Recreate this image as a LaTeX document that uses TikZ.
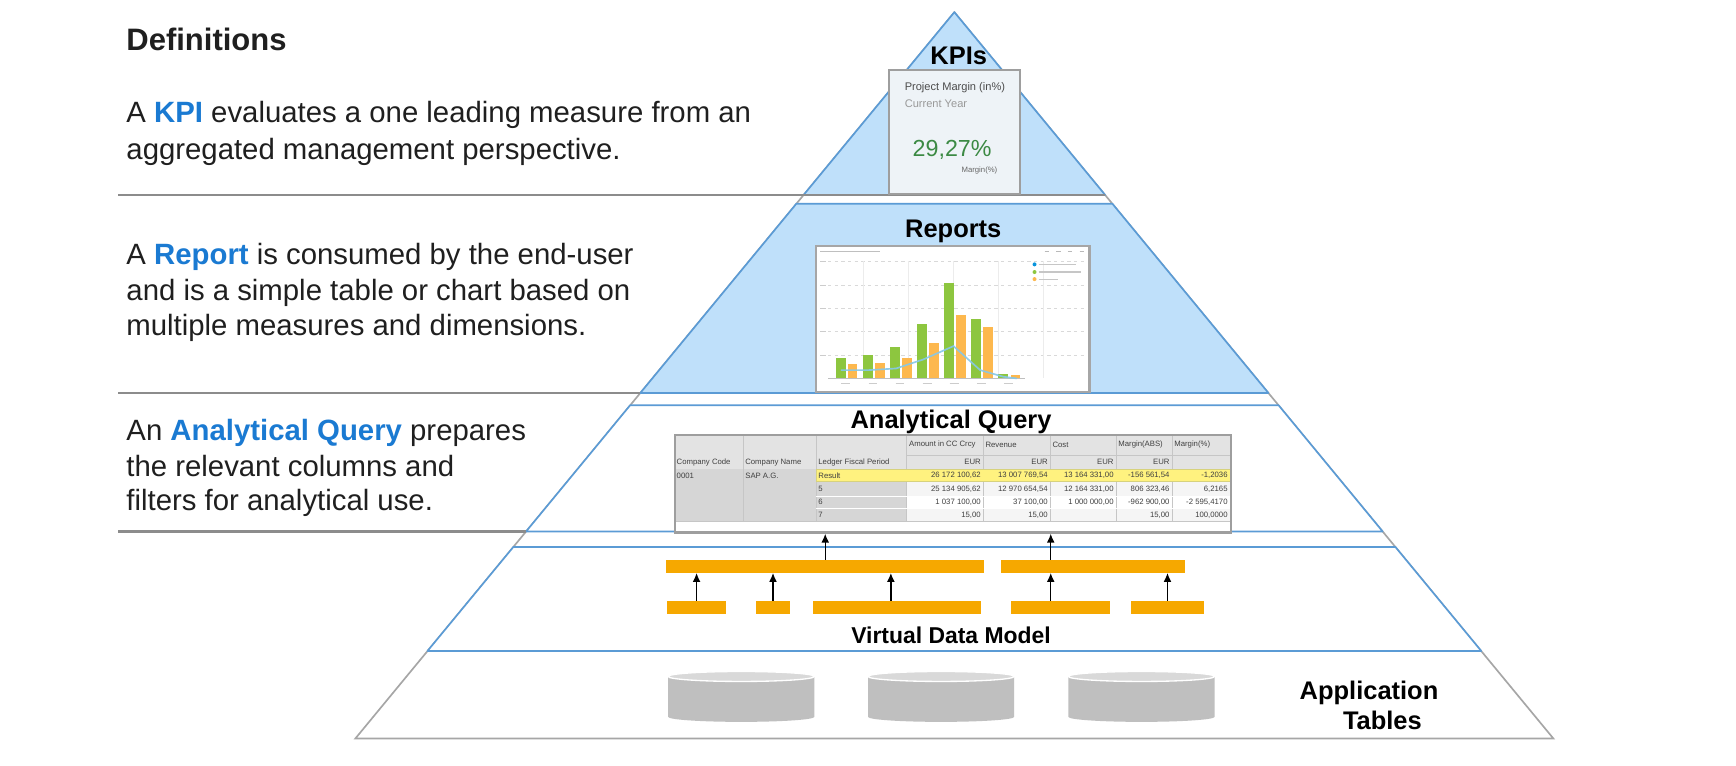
\documentclass[tikz,border=0pt]{standalone}
\usepackage{fontspec}
\setmainfont{Liberation Sans}
\usetikzlibrary{positioning,calc,arrows.meta}

\definecolor{pyrblue}{HTML}{5B9BD5}
\definecolor{pyrfill}{HTML}{BFE0FA}
\definecolor{pyrgray}{HTML}{A6A6A6}
\definecolor{sepgray}{HTML}{8C8C8C}
\definecolor{keyblue}{HTML}{1A7AD2}
\definecolor{vdmorange}{HTML}{F6A800}
\definecolor{kpigreen}{HTML}{3C8A44}
\definecolor{cardfill}{HTML}{EEF3F7}
\definecolor{bargreen}{HTML}{8DC63F}
\definecolor{barorange}{HTML}{FDB84E}
\definecolor{lineblue}{HTML}{86C8EA}
\definecolor{cyltop}{HTML}{D9D9D9}
\definecolor{cylbody}{HTML}{BFBFBF}
\definecolor{tblhead}{HTML}{E3E3E3}
\definecolor{tblgray}{HTML}{D6D6D6}
\definecolor{tblyellow}{HTML}{FFF27F}
\definecolor{tblframe}{HTML}{9E9E9E}

\newcommand{\kw}[1]{\textcolor{keyblue}{\bfseries #1}}

\tikzset{
  deftext/.style={anchor=base west, inner sep=0, text=black!88,
    font=\fontsize{26.5}{33}\selectfont},
  layertitle/.style={anchor=base, inner sep=0, font=\bfseries\fontsize{23}{27}\selectfont},
  sepline/.style={draw=sepgray, line width=2.2pt},
  band/.style={draw=pyrblue, line width=1.5pt, line join=round},
  vdmbar/.style={fill=vdmorange, minimum height=11.5pt, inner sep=0},
  tcell/.style={inner sep=0, text=black!75, font=\fontsize{7}{8}\selectfont},
  flowarrow/.style={->, line width=1.3pt},
}

\begin{document}
\begin{tikzpicture}[x=1pt,y=-1pt,>={Latex[length=8pt,width=7pt]}]
  \useasboundingbox (0,0) rectangle (1568,691);
  \fill[white] (0,0) rectangle (1568,691);

  % pyramid outline and layers
  \coordinate (apex) at (862,11);
  \draw[draw=pyrgray, line width=1.5pt, fill=white] (apex) -- (1403,667) -- (321,667) -- cycle;
  \draw[band, fill=pyrfill] (apex) -- (998.1,176) -- (725.9,176) -- cycle;
  \draw[band, fill=pyrfill] (719.3,184) -- (1004.7,184) -- (1145.7,355) -- (578.3,355) -- cycle;
  \draw[band, fill=white] (569.2,366) -- (1154.8,366) -- (1248.8,480) -- (475.2,480) -- cycle;
  \draw[band, fill=white] (463.7,494) -- (1260.3,494) -- (1337.9,588) -- (386.1,588) -- cycle;

  % separators of the definitions
  \draw[sepline] (107,176) -- (998.1,176);
  \draw[sepline] (107,355) -- (578.3,355);
  \draw[sepline] (107,480) -- (475.2,480);

  % definitions
  \node[deftext, font=\bfseries\fontsize{28}{33}\selectfont] (defs) at (114,46) {Definitions};
  \node[deftext] (kpiA) at (114,111) {A \kw{KPI} evaluates a one leading measure from an};
  \node[deftext] (kpiB) at (114,144) {aggregated management perspective.};
  \node[deftext] (repA) at (114,239) {A \kw{Report} is consumed by the end-user};
  \node[deftext] (repB) at (114,271) {and is a simple table or chart based on};
  \node[deftext] (repC) at (114,303) {multiple measures and dimensions.};
  \node[deftext] (aqA) at (114,398) {An \kw{Analytical Query} prepares};
  \node[deftext] (aqB) at (114,430) {the relevant columns and};
  \node[deftext] (aqC) at (114,461) {filters for analytical use.};

  % layer titles
  \node[layertitle] (kpis) at (866,58) {KPIs};
  \node[layertitle] (reports) at (861,214.5) {Reports};
  \node[layertitle] (aq) at (859,387) {Analytical Query};
  \node[layertitle, font=\bfseries\fontsize{20.7}{24}\selectfont] (vdm) at (859,581) {Virtual Data Model};
  \node[layertitle] (appA) at (1236.5,632) {Application};
  \node[layertitle] (appB) at (1248.6,659) {Tables};

  % KPI tile
  \node[draw=tblframe, line width=2.2pt, fill=cardfill, minimum width=118pt, minimum height=112pt,
    inner sep=0, anchor=north west] (card) at (802,62) {};
  \node[anchor=base west, inner sep=0, text=black!70, font=\fontsize{10}{12}\selectfont] (cardA) at (817,82) {Project Margin (in\%)};
  \node[anchor=base west, inner sep=0, text=black!40, font=\fontsize{10}{12}\selectfont] (cardB) at (817,97.5) {Current Year};
  \node[anchor=base, inner sep=0, text=kpigreen, font=\fontsize{21}{24}\selectfont] (cardC) at (860,141.5) {29,27\%};
  \node[anchor=base east, inner sep=0, text=black!60, font=\fontsize{7}{8}\selectfont] (cardD) at (901,156) {Margin(\%)};

  % report chart
  \node[draw=gray!70, line width=2pt, fill=white, minimum width=247pt, minimum height=131.7pt,
    inner sep=0, anchor=north west] (chart) at (736,221.3) {};
  \foreach \gy in {236.4,257.5,278.6,299.6,320.7}
    \draw[gray!30, dashed, line width=0.5pt] (748,\gy) -- (980,\gy);
  \foreach \gx in {779.9,820.6,861.2,901.9,942.5}
    \draw[gray!15, line width=0.5pt] (\gx,236) -- (\gx,341.8);
  \draw[gray!50, line width=0.6pt] (748,341.8) -- (926,341.8);
  \foreach \gt/\ot [count=\i from 0] in {323.1/329.1,321.0/327.6,313.8/323.1,293.0/309.6,256.0/284.6,288.5/295.4,337.9/338.8}{
    \fill[bargreen] ({755+24.45*\i},\gt) rectangle ({764+24.45*\i},341.8);
    \fill[barorange] ({766+24.45*\i},\ot) rectangle ({774.5+24.45*\i},341.8);
    \draw[gray!40, line width=0.8pt] ({760+24.45*\i},346) -- ++(8,0);
  }
  \draw[lineblue, line width=1.5pt, opacity=0.9] (759.4,334.3) -- (784.4,334.3) -- (809.4,332.8)
    -- (834.1,324.6) -- (861.2,312.6) -- (885.3,334.3) -- (906.4,340.3) -- (918.4,341.8);
  \draw[gray!50, line width=1pt] (741,227.4) -- (795,227.4);
  \foreach \tx in {945.5,956,966.6,977.1}
    \draw[gray!55, line width=1.2pt] (\tx-2,227.4) -- (\tx+2,227.4);
  \foreach \gy in {236.4,257.5,278.6,299.6,320.7}
    \draw[gray!40, line width=0.8pt] (741,\gy) -- (746,\gy);
  \fill[cyan!80!blue] (934.4,238.8) circle (1.8pt);
  \fill[bargreen] (934.4,245.7) circle (1.8pt);
  \fill[barorange] (934.4,252.1) circle (1.8pt);
  \draw[gray!45, line width=1pt] (938,238.8) -- (972,238.8);
  \draw[gray!45, line width=1pt] (938,245.7) -- (976,245.7);
  \draw[gray!45, line width=1pt] (938,252.1) -- (956,252.1);

  % analytical query table
  \fill[white] (609,392) rectangle (1111,480);
  \fill[tblhead] (609,392) rectangle (1111,424);
  \fill[tblgray] (609,424) rectangle (737,471);
  \fill[tblgray] (737,435) rectangle (819,471);
  \fill[gray!8] (819,435) rectangle (1111,448);
  \fill[gray!8] (819,459) rectangle (1111,471);
  \foreach \cx in {671,737,819,888,948.5,1008,1058.5}
    \draw[gray!45, line width=0.5pt] (\cx,392) -- (\cx,471);
  \foreach \ry in {448,459}
    \draw[white, line width=0.8pt] (737,\ry) -- (1111,\ry);
  \draw[gray!45, line width=0.5pt] (819,411) -- (1111,411);
  \draw[gray!45, line width=0.5pt] (609,471) -- (1111,471);
  \draw[fill=tblyellow, draw=yellow!70!black!60, line width=0.6pt] (737,424) rectangle (1111,435);

  \node[tcell, anchor=west] (hA) at (821,401.6) {Amount in CC Crcy};
  \node[tcell, anchor=west] (hB) at (890,401.6) {Revenue};
  \node[tcell, anchor=west] (hC) at (950.5,401.6) {Cost};
  \node[tcell, anchor=west] (hD) at (1010,401.6) {Margin(ABS)};
  \node[tcell, anchor=west] (hE) at (1060.5,401.6) {Margin(\%)};
  \node[tcell, anchor=west] (hF) at (611,417.6) {Company Code};
  \node[tcell, anchor=west] (hG) at (673,417.6) {Company Name};
  \node[tcell, anchor=west] (hH) at (739,417.6) {Ledger Fiscal Period};
  \foreach \cx [count=\k] in {886,946.5,1006,1056.5}
    \node[tcell, anchor=east] (eur\k) at (\cx,417.6) {EUR};
  \node[tcell, anchor=west] (code) at (611,429.4) {0001};
  \node[tcell, anchor=west] (name) at (673,429.4) {SAP A.G.};
  \foreach \ry/\per/\va/\vb/\vc/\vd/\ve [count=\r] in {
      429.4/Result/{26 172 100,62}/{13 007 769,54}/{13 164 331,00}/{-156 561,54}/{-1,2036},
      441.6/5/{25 134 905,62}/{12 970 654,54}/{12 164 331,00}/{806 323,46}/{6,2165},
      453.4/6/{1 037 100,00}/{37 100,00}/{1 000 000,00}/{-962 900,00}/{-2 595,4170},
      465.0/7/{15,00}/{15,00}/{}/{15,00}/{100,0000}}{
    \node[tcell, anchor=west] (per\r) at (739,\ry) {\per};
    \node[tcell, anchor=east] (va\r) at (886,\ry) {\va};
    \node[tcell, anchor=east] (vb\r) at (946.5,\ry) {\vb};
    \node[tcell, anchor=east] (vc\r) at (1006,\ry) {\vc};
    \node[tcell, anchor=east] (vd\r) at (1056.5,\ry) {\vd};
    \node[tcell, anchor=east] (ve\r) at (1109,\ry) {\ve};
  }
  \node[draw=tblframe, line width=2pt, minimum width=502pt, minimum height=88pt,
    inner sep=0, anchor=north west] (tbl) at (609,392) {};

  % virtual data model
  \node[vdmbar, minimum width=287.7pt] (tA) at (745.35,511.5) {};
  \node[vdmbar, minimum width=166.2pt] (tB) at (987.4,511.5) {};
  \node[vdmbar, minimum width=53.9pt] (b1) at (629.15,548.7) {};
  \node[vdmbar, minimum width=30.8pt] (b2) at (698.2,548.7) {};
  \node[vdmbar, minimum width=151.5pt] (b3) at (810.15,548.7) {};
  \node[vdmbar, minimum width=89.7pt] (b4) at (957.55,548.7) {};
  \node[vdmbar, minimum width=66.2pt] (b5) at (1054.5,548.7) {};
  \coordinate (b4up) at ([xshift=-8.5pt]b4.north);

  \draw[flowarrow] (b1.north) -- (b1.north |- tA.south);
  \draw[flowarrow] (b2.north) -- (b2.north |- tA.south);
  \draw[flowarrow] ([xshift=-5.5pt]b3.north) -- ([xshift=-5.5pt]b3.north |- tA.south);
  \draw[flowarrow] (b4up) -- (b4up |- tB.south);
  \draw[flowarrow] (b5.north) -- (b5.north |- tB.south);
  \draw[flowarrow] (tA.north) -- (tA.north |- tbl.south);
  \draw[flowarrow] (tB.north -| b4up) -- (b4up |- tbl.south);

  % application tables
  \foreach \cx in {669.5,850,1031}{
    \fill[cylbody] ({\cx-66},611) -- ({\cx-66},647.5)
      arc[start angle=180, end angle=360, x radius=66pt, y radius=4.5pt] -- ({\cx+66},611) -- cycle;
    \filldraw[fill=cyltop, draw=white, line width=1.2pt] (\cx,611) ellipse[x radius=66pt, y radius=4.5pt];
  }
\end{tikzpicture}
\end{document}
